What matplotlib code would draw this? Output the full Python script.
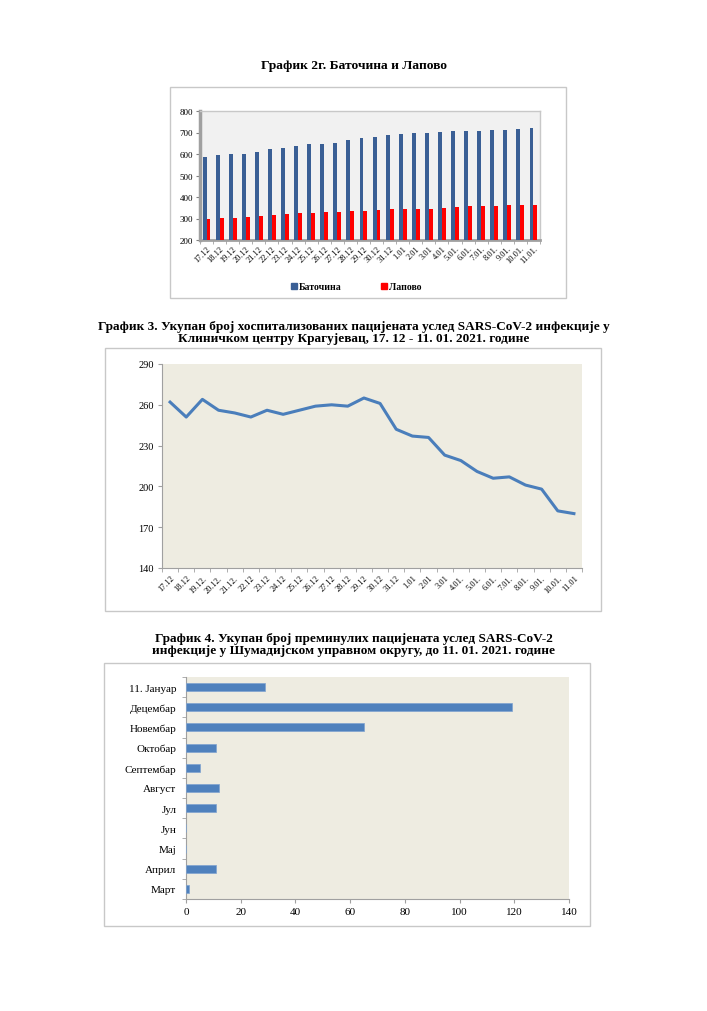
import matplotlib
matplotlib.use("Agg")
import matplotlib.pyplot as plt
from matplotlib.patches import Rectangle
from matplotlib.lines import Line2D
import numpy as np

plt.rcParams['font.family'] = ['Liberation Serif', 'DejaVu Serif']

# ---------------- data ----------------
dates1 = ['17.12', '18.12', '19.12', '20.12', '21.12', '22.12', '23.12', '24.12', '25.12',
          '26.12', '27.12', '28.12', '29.12', '30.12', '31.12', '1.01', '2.01', '3.01',
          '4.01', '5.01.', '6.01.', '7.01.', '8.01.', '9.01.', '10.01.', '11.01.']
batocina = [588, 595, 598, 598, 608, 621, 627, 638, 647, 647, 651, 665, 674, 680, 689,
            693, 696, 697, 701, 706, 709, 709, 712, 712, 715, 721]
lapovo = [300, 303, 303, 307, 310, 316, 320, 324, 325, 328, 328, 333, 336, 340, 342,
          342, 342, 342, 347, 352, 357, 358, 358, 362, 362, 364]
series1_names = ['Баточина', 'Лапово']

dates2 = ['17.12', '18.12', '19.12.', '20.12.', '21.12.', '22.12', '23.12', '24.12', '25.12',
          '26.12', '27.12', '28.12', '29.12', '30.12', '31.12', '1.01', '2.01', '3.01',
          '4.01.', '5.01.', '6.01.', '7.01.', '8.01.', '9.01.', '10.01.', '11.01']
hospitalized = [262, 251, 264, 256, 254, 251, 256, 253, 256, 259, 260, 259, 265, 261,
                242, 237, 236, 223, 219, 211, 206, 207, 201, 198, 182, 180]

months = ['Март', 'Април', 'Мај', 'Јун', 'Јул', 'Август', 'Септембар', 'Октобар',
          'Новембар', 'Децембар', '11. Јануар']
deaths = [1, 11, 0, 0, 11, 12, 5, 11, 65, 119, 29]

title1 = 'График 2г. Баточина и Лапово'
title2 = ('График 3. Укупан број хоспитализованих пацијената услед SARS-CoV-2 инфекције у\n'
          'Клиничком центру Крагујевац, 17. 12 - 11. 01. 2021. године')
title3 = ('График 4. Укупан број преминулих пацијената услед SARS-CoV-2\n'
          'инфекције у Шумадијском управном округу, до 11. 01. 2021. године')

# ---------------- figure ----------------
W, H = 707, 1012
fig = plt.figure(figsize=(W / 100, H / 100), dpi=100)
fig.patch.set_facecolor('white')


def ax_px(x0, y0, x1, y1):
    return fig.add_axes([x0 / W, 1 - y1 / H, (x1 - x0) / W, (y1 - y0) / H])


def frame_px(x0, y0, x1, y1, color='#c8c8c8'):
    fig.add_artist(Rectangle((x0 / W, 1 - y1 / H), (x1 - x0) / W, (y1 - y0) / H,
                             transform=fig.transFigure, fill=False, edgecolor=color,
                             linewidth=1.0))


# ---------------- chart 1 ----------------
fig.text(354 / W, 1 - 66 / H, title1, ha='center', va='center', fontsize=9.7,
         fontweight='bold')
frame_px(170, 88, 566, 299)
ax1 = ax_px(200, 112, 540, 241)
ax1.set_facecolor('#f1f1f1')
x = np.arange(len(dates1))
bw = 0.3
ax1.bar(x - 0.15, batocina, width=bw, color='#3a5f95', zorder=3)
ax1.bar(x + 0.15, lapovo, width=bw, color='#ff0000', zorder=3)
ax1.set_ylim(200, 800)
ax1.set_xlim(-0.5, len(dates1) - 0.5)
ax1.set_yticks(range(200, 801, 100))
ax1.tick_params(axis='y', labelsize=6.5, length=3, color='#808080', pad=2)
ax1.set_xticks(x)
ax1.set_xticklabels(dates1, rotation=45, ha='right', rotation_mode='anchor', fontsize=6)
ax1.set_xticks(np.arange(-0.5, len(dates1)), minor=True)
ax1.tick_params(axis='x', which='major', length=0, pad=3)
ax1.tick_params(axis='x', which='minor', length=3, color='#a0a0a0')
ax1.spines['left'].set_color('#a0a0a0')
ax1.spines['left'].set_linewidth(2.5)
ax1.spines['bottom'].set_color('#a0a0a0')
ax1.spines['bottom'].set_linewidth(2.0)
for s in ['top', 'right']:
    ax1.spines[s].set_color('#c8c8c8')
    ax1.spines[s].set_linewidth(1.0)
handles = [Line2D([], [], marker='s', linestyle='', color='#3a5f95', markersize=4),
           Line2D([], [], marker='s', linestyle='', color='#ff0000', markersize=4)]
fig.legend(handles, series1_names, loc='center', bbox_to_anchor=(356 / W, 1 - 288 / H),
           ncol=2, frameon=False, prop={'size': 7, 'weight': 'bold'},
           handletextpad=0.1, columnspacing=4.0, handlelength=0.8)

# ---------------- chart 2 ----------------
fig.text(354 / W, 1 - 333 / H, title2, ha='center', va='center', fontsize=9.5,
         fontweight='bold', linespacing=1.1)
frame_px(105, 349, 601, 612)
ax2 = ax_px(162, 365, 582, 569)
ax2.set_facecolor('#eeece1')
x2 = np.arange(len(dates2))
ax2.plot(x2, hospitalized, color='#4a7ebb', linewidth=2.2, zorder=3)
ax2.set_ylim(140, 290)
ax2.set_xlim(-0.5, len(dates2) - 0.5)
ax2.set_yticks(range(140, 291, 30))
ax2.tick_params(axis='y', labelsize=7.5, length=3, color='#a0a0a0', pad=3)
ax2.set_xticks(x2)
ax2.set_xticklabels(dates2, rotation=45, ha='right', rotation_mode='anchor', fontsize=6)
ax2.set_xticks(np.arange(-0.5, len(dates2)), minor=True)
ax2.tick_params(axis='x', which='major', length=0, pad=4)
ax2.tick_params(axis='x', which='minor', length=3, color='#a0a0a0')
for s in ['top', 'right']:
    ax2.spines[s].set_visible(False)
for s in ['left', 'bottom']:
    ax2.spines[s].set_color('#a0a0a0')
    ax2.spines[s].set_linewidth(0.8)

# ---------------- chart 3 ----------------
fig.text(354 / W, 1 - 645 / H, title3, ha='center', va='center', fontsize=9.5,
         fontweight='bold', linespacing=1.1)
frame_px(104, 664, 590, 927)
ax3 = ax_px(186, 678, 569, 900)
ax3.set_facecolor('#eeece1')
y3 = np.arange(len(months))
ax3.barh(y3, deaths, height=0.4, color='#4f81bd', edgecolor='#7fa3d0', linewidth=0.5,
         zorder=3)
ax3.set_xlim(0, 140)
ax3.set_ylim(-0.5, len(months) - 0.5)
ax3.set_xticks(range(0, 141, 20))
ax3.tick_params(axis='x', labelsize=8, length=3, color='#a0a0a0', pad=3)
ax3.set_yticks(y3)
ax3.set_yticklabels(months, fontsize=8)
ax3.set_yticks(np.arange(-0.5, len(months)), minor=True)
ax3.tick_params(axis='y', which='major', length=0, pad=7)
ax3.tick_params(axis='y', which='minor', length=3, color='#a0a0a0')
for s in ['top', 'right']:
    ax3.spines[s].set_visible(False)
for s in ['left', 'bottom']:
    ax3.spines[s].set_color('#a0a0a0')
    ax3.spines[s].set_linewidth(0.8)

fig.savefig('out.png', dpi=100)
